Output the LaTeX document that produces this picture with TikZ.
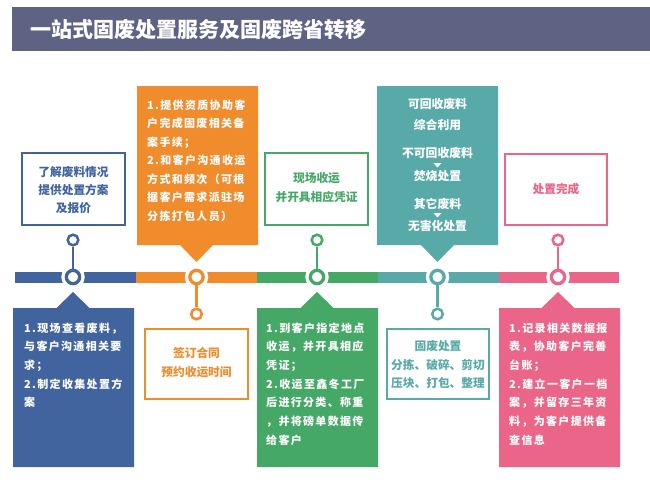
\documentclass[tikz,border=0pt]{standalone}
\usepackage{fontspec}
\setmainfont{Noto Sans CJK SC}
\newfontfamily\cjksp[LetterSpace=12]{Noto Sans CJK SC}
\definecolor{cblue}{HTML}{41649F}
\definecolor{corange}{HTML}{F08C2C}
\definecolor{cgreen}{HTML}{46A866}
\definecolor{cteal}{HTML}{58AAA9}
\definecolor{cpink}{HTML}{EA6587}
\definecolor{ctitle}{HTML}{5E6283}
\tikzset{
  bigdot/.style={circle, inner sep=0pt, minimum size=13.3pt, line width=3.3pt, draw=#1, fill=white,
    preaction={draw=white, line width=10pt}},
  smalldot/.style={circle, inner sep=0pt, minimum size=10.6pt, line width=2.5pt, draw=#1, fill=white},
  stem/.style={line width=2.5pt, draw=#1},
  obox/.style={draw=#1, line width=2pt, fill=white},
  callout/.style={fill=#1},
  otext/.style={text=#1, font=\fontsize{11.7pt}{14pt}\selectfont\bfseries, inner sep=0pt, anchor=center},
  ctext/.style={text=white, font=\cjksp\fontsize{11pt}{13pt}\selectfont\bfseries, inner sep=0pt, anchor=base west},
  ttext/.style={text=white, font=\fontsize{11.8pt}{14pt}\selectfont\bfseries, inner sep=0pt, anchor=center},
}
\begin{document}
\begin{tikzpicture}[x=1pt, y=-1pt]
\useasboundingbox (0,0) rectangle (650,503);
% title
\fill[ctitle] (12,7) rectangle (650,51);
\node[text=white, font=\fontsize{21pt}{24pt}\selectfont\bfseries, anchor=west, inner sep=0pt] (title) at (30,29) {一站式固废处置服务及固废跨省转移};
% timeline bar
\fill[cblue] (15,271.5) rectangle (136,282.5);
\fill[corange] (136,271.5) rectangle (257,282.5);
\fill[cgreen] (257,271.5) rectangle (378,282.5);
\fill[cteal] (378,271.5) rectangle (499,282.5);
\fill[cpink] (499,271.5) rectangle (619,282.5);

% ---------- top blue box ----------
\draw[obox=cblue] (22,153) rectangle (125,225);
\node[otext=cblue] (t1a) at (73.5,172) {了解废料情况};
\node[otext=cblue] (t1b) at (73.5,190) {提供处置方案};
\node[otext=cblue] (t1c) at (73.5,208) {及报价};
% ---------- top orange callout ----------
\fill[callout=corange] (137,86) -- (258,86) -- (258,245) -- (213,245) -- (196.5,262) -- (180,245) -- (137,245) -- cycle;
\foreach \t [count=\i from 0] in {{1.提供资质协助客},{户完成固废相关备},{案手续；},{2.和客户沟通收运},{方式和频次（可根},{据客户需求派驻场},{分拣打包人员）}}
  \node[ctext] (t2-\i) at (147,109+18.5*\i) {\t};
% ---------- top green box ----------
\draw[obox=cgreen] (265,153) rectangle (368,225);
\node[otext=cgreen] (t3a) at (316.5,178) {现场收运};
\node[otext=cgreen] (t3b) at (316.5,197) {并开具相应凭证};
% ---------- top teal callout ----------
\fill[callout=cteal] (377,86) -- (498,86) -- (498,245) -- (454,245) -- (437.5,262) -- (421,245) -- (377,245) -- cycle;
\node[ttext] (t4a) at (437.5,104) {可回收废料};
\node[ttext] (t4b) at (437.5,125) {综合利用};
\node[ttext] (t4c) at (437.5,153) {不可回收废料};
\fill[white] (433.5,163) -- (441.5,163) -- (437.5,167.5) -- cycle;
\node[ttext] (t4d) at (437.5,176) {焚烧处置};
\node[ttext] (t4e) at (437.5,204) {其它废料};
\fill[white] (433.5,213) -- (441.5,213) -- (437.5,217.5) -- cycle;
\node[ttext] (t4f) at (437.5,226) {无害化处置};
% ---------- top pink box ----------
\draw[obox=cpink] (505,154) rectangle (607,225);
\node[otext=cpink] (t5a) at (556,189) {处置完成};

% ---------- bottom blue callout ----------
\fill[callout=cblue] (13,308) -- (56.5,308) -- (73,292) -- (89.5,308) -- (134,308) -- (134,467) -- (13,467) -- cycle;
\foreach \t [count=\i from 0] in {{1.现场查看废料，},{与客户沟通相关要},{求；},{2.制定收集处置方},{案}}
  \node[ctext] (b1-\i) at (24,332+18.7*\i) {\t};
% ---------- bottom orange box ----------
\draw[obox=corange] (145,329) rectangle (248,399);
\node[otext=corange] (b2a) at (196.5,353) {签订合同};
\node[otext=corange] (b2b) at (196.5,372) {预约收运时间};
% ---------- bottom green callout ----------
\fill[callout=cgreen] (257,308) -- (300.5,308) -- (317,292) -- (333.5,308) -- (378,308) -- (378,467) -- (257,467) -- cycle;
\foreach \t [count=\i from 0] in {{1.到客户指定地点},{收运，并开具相应},{凭证；},{2.收运至鑫冬工厂},{后进行分类、称重},{，并将磅单数据传},{给客户}}
  \node[ctext] (b3-\i) at (266,332+18.7*\i) {\t};
% ---------- bottom teal box ----------
\draw[obox=cteal] (387,329) rectangle (489,399);
\node[otext=cteal] (b4a) at (438,346) {固废处置};
\node[otext=cteal] (b4b) at (438,365) {分拣、破碎、剪切};
\node[otext=cteal] (b4c) at (438,383) {压块、打包、整理};
% ---------- bottom pink callout ----------
\fill[callout=cpink] (499,308) -- (541.5,308) -- (558,292) -- (574.5,308) -- (620,308) -- (620,467) -- (499,467) -- cycle;
\foreach \t [count=\i from 0] in {{1.记录相关数据报},{表，协助客户完善},{台账；},{2.建立一客户一档},{案，并留存三年资},{料，为客户提供备},{查信息}}
  \node[ctext] (b5-\i) at (509,332+18.7*\i) {\t};

% ---------- dots and stems ----------
\node[smalldot=cblue] (s1) at (73,240) {};
\node[smalldot=cgreen] (s3) at (317,240) {};
\node[smalldot=cpink] (s5) at (558,240) {};
\node[smalldot=corange] (s2) at (196.5,314) {};
\node[smalldot=cteal] (s4) at (437.5,314) {};
\node[bigdot=cblue] (d1) at (73,277) {};
\node[bigdot=corange] (d2) at (196.5,277) {};
\node[bigdot=cgreen] (d3) at (317,277) {};
\node[bigdot=cteal] (d4) at (437.5,277) {};
\node[bigdot=cpink] (d5) at (558,277) {};
\draw[stem=cblue] (s1) -- (d1);
\draw[stem=cgreen] (s3) -- (d3);
\draw[stem=cpink] (s5) -- (d5);
\draw[stem=corange] (s2) -- (d2);
\draw[stem=cteal] (s4) -- (d4);
\end{tikzpicture}
\end{document}
